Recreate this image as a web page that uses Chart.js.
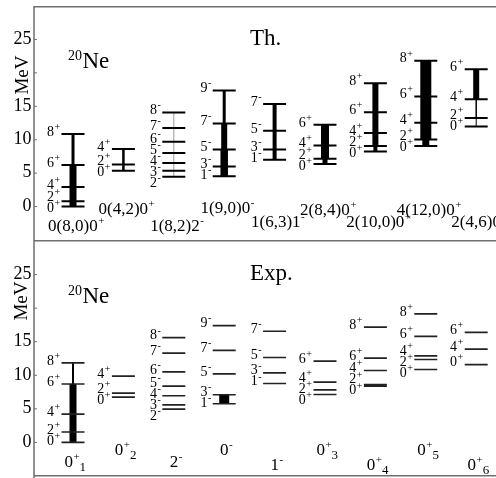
<!DOCTYPE html>
<html><head><meta charset="utf-8">
<script src="https://cdn.jsdelivr.net/npm/chart.js@4.4.1/dist/chart.umd.min.js"></script>
<style>
html,body{margin:0;padding:0;background:#fff;}
#wrap{position:relative;width:496px;height:478px;overflow:hidden;background:#fff;}
canvas{position:absolute;left:0;}
#cTop{top:0;}
#cBot{top:240px;}
</style></head><body>
<div id="wrap"><canvas id="cTop" width="496" height="240"></canvas><canvas id="cBot" width="496" height="238"></canvas></div>
<script>
// ---------------- DATA ----------------
const yTicks = [0, 5, 10, 15, 20, 25];
const yTickLabels = ['0', '5', '10', '15', '', '25'];
const yAxisTitle = 'MeV';
const nucleusMass = '20';
const nucleusName = 'Ne';

// Theory panel
const thTitle = 'Th.';
const thBandNames = ['0(8,0)0', '0(4,2)0', '1(8,2)2', '1(9,0)0', '1(6,3)1', '2(8,4)0', '2(10,0)0', '4(12,0)0', '2(4,6)0'];
const thBandParity = ['+', '+', '-', '-', '-', '+', '+', '+', '+'];
const thSpins = [
  [0, 2, 4, 6, 8],
  [0, 2, 4],
  [2, 3, 4, 5, 6, 7, 8],
  [1, 3, 5, 7, 9],
  [1, 3, 5, 7],
  [0, 2, 4, 6],
  [0, 2, 4, 6, 8],
  [0, 2, 4, 6, 8],
  [0, 2, 4, 6]
];
const thEnergies = [
  [0.0, 0.8, 2.94, 6.2, 10.85],
  [5.35, 6.3, 8.6],
  [4.47, 5.37, 6.5, 8.0, 9.7, 11.77, 14.07],
  [4.52, 5.98, 8.55, 12.42, 17.35],
  [7.0, 8.53, 11.33, 15.35],
  [6.38, 7.16, 9.15, 12.22],
  [8.23, 9.05, 11.0, 14.12, 18.46],
  [9.05, 10.05, 12.55, 16.46, 21.82],
  [11.99, 13.24, 16.07, 20.55]
];
// transition strength between consecutive levels (drawn as stick thickness)
const thStrength = [
  [7, 7, 7, 3],
  [2.5, 2.5],
  [0.8, 0.8, 0.8, 0.8, 0.8, 0.8],
  [7.5, 7.5, 6, 3],
  [4, 4, 4],
  [5, 8, 8],
  [4, 6, 6, 6],
  [7, 11, 11, 11],
  [1, 1.5, 6]
];

// Experiment panel
const expTitle = 'Exp.';
const expBandNames = ['0', '0', '2', '0', '1', '0', '0', '0', '0'];
const expBandParity = ['+', '+', '-', '-', '-', '+', '+', '+', '+'];
const expBandIndex = ['1', '2', '', '', '', '3', '4', '5', '6'];
const expSpins = [
  [0, 2, 4, 6, 8],
  [0, 2, 4],
  [2, 3, 4, 5, 6, 7, 8],
  [1, 3, 5, 7, 9],
  [1, 3, 5, 7],
  [0, 2, 4, 6],
  [0, 2, 4, 6, 8],
  [0, 2, 4, 6, 8],
  [0, 4, 6]
];
const expEnergies = [
  [0.0, 1.55, 4.22, 8.7, 11.85],
  [6.74, 7.34, 9.87],
  [4.96, 5.6, 6.95, 8.38, 10.5, 13.3, 15.6],
  [5.76, 7.1, 10.2, 13.7, 17.4],
  [8.78, 10.37, 12.65, 16.56],
  [7.14, 7.84, 8.97, 12.1],
  [8.38, 8.63, 10.71, 12.55, 17.16],
  [10.86, 12.35, 12.9, 15.8, 19.15],
  [11.6, 13.9, 16.4]
];
const expStrength = [
  [7, 7, 7, 2],
  [0, 0],
  [0, 0, 0, 0, 0, 0],
  [10, 0, 0, 0],
  [0, 0, 0],
  [0, 0, 0],
  [0, 0, 0, 0],
  [0, 0, 0, 0],
  [0, 0]
];

// ---------------- STYLE / LAYOUT ----------------
const SERIF = '"Liberation Serif", "DejaVu Serif", serif';
const FRAME = '#6e6e6e';
const LEVEL_HALF = 0.228;     // half-width of a level line, in band units
const X_MIN = -0.774, X_MAX = 8.393;
const Y_MIN = -5, Y_MAX = 30;

const layoutTop = {
  padding: {left: 34, right: 0, top: 6, bottom: 0},
  frameTopY: 6.75, frameBottomY: null,
  titleX: 250, titleY: 45,
  nucX: 68, nucY: 67.5,
  meVX: 23, meVY: 75,
  bandLabelBase: [231, 214, 231, 213, 227, 215, 227, 215, 227],
  bandFont: 17, bandSupFont: 11, bandSubFont: 13, bandShift: 3,
  levelColor: '#000', levelWidth: 2
};
const layoutBot = {
  padding: {left: 34, right: 0, top: 1, bottom: 2},
  frameTopY: 0.75, frameBottomY: 235.75,
  titleX: 250, titleY: 40,
  nucX: 68, nucY: 63,
  meVX: 22.5, meVY: 61,
  bandLabelBase: [227, 215, 227, 215, 230, 215, 230, 215, 230],
  bandFont: 17, bandSupFont: 11, bandSubFont: 13, bandShift: 2,
  levelColor: '#222', levelWidth: 1.7
};

// ---------------- HELPERS ----------------
function relax(centers, gap) {
  const c = centers.slice();
  for (let it = 0; it < 200; it++) {
    let moved = false;
    for (let i = 0; i < c.length - 1; i++) {
      const d = c[i] - c[i + 1];
      if (d < gap - 0.01) {
        const m = gap - d;
        c[i] += m * 0.7;
        c[i + 1] -= m * 0.3;
        moved = true;
      }
    }
    if (!moved) break;
  }
  return c;
}

function richWidth(ctx, base, sup, sub, bs, ss, sbs) {
  ctx.font = bs + 'px ' + SERIF;
  const wb = ctx.measureText(base).width;
  ctx.font = ss + 'px ' + SERIF;
  const wsup = sup ? ctx.measureText(sup).width : 0;
  ctx.font = (sbs || ss) + 'px ' + SERIF;
  const wsub = sub ? ctx.measureText(sub).width : 0;
  return wb + wsup + wsub;
}

function drawRich(ctx, x, y, base, sup, sub, bs, ss, sbs) {
  ctx.textAlign = 'left';
  ctx.textBaseline = 'alphabetic';
  ctx.font = bs + 'px ' + SERIF;
  ctx.fillText(base, x, y);
  const wb = ctx.measureText(base).width;
  ctx.font = ss + 'px ' + SERIF;
  let wsup = 0;
  if (sup) {
    ctx.fillText(sup, x + wb + 0.5, y - bs * 0.42);
    wsup = ctx.measureText(sup).width;
  }
  if (sub) {
    ctx.font = (sbs || ss) + 'px ' + SERIF;
    ctx.fillText(sub, x + wb + wsup + 0.5, y + 4);
  }
}

const panelPlugin = {
  id: 'panel',
  afterDatasetsDraw(chart) {
    const p = chart.options.plugins.panel;
    const L = p.layout;
    const ctx = chart.ctx;
    const xs = chart.scales.x, ys = chart.scales.y;
    ctx.save();
    // frame
    ctx.strokeStyle = FRAME;
    ctx.lineWidth = 1.5;
    ctx.beginPath();
    ctx.moveTo(34, L.frameTopY - 0.75); ctx.lineTo(34, chart.height);
    ctx.moveTo(34, L.frameTopY); ctx.lineTo(chart.width, L.frameTopY);
    if (L.frameBottomY !== null) { ctx.moveTo(34, L.frameBottomY); ctx.lineTo(chart.width, L.frameBottomY); }
    ctx.stroke();
    // y ticks
    ctx.lineWidth = 1;
    ctx.fillStyle = '#000';
    yTicks.forEach((t, i) => {
      const py = ys.getPixelForValue(t);
      ctx.beginPath(); ctx.moveTo(34, py); ctx.lineTo(37, py); ctx.stroke();
      if (yTickLabels[i]) {
        ctx.font = '18px ' + SERIF;
        ctx.textAlign = 'right';
        ctx.textBaseline = 'middle';
        ctx.fillText(yTickLabels[i], 31.5, py - 0.5);
      }
    });
    // axis title (rotated)
    ctx.save();
    ctx.translate(L.meVX, L.meVY);
    ctx.rotate(-Math.PI / 2);
    ctx.font = '19px ' + SERIF;
    ctx.textAlign = 'center';
    ctx.textBaseline = 'middle';
    ctx.fillText(yAxisTitle, 0, 0);
    ctx.restore();
    // nucleus + panel title
    ctx.fillStyle = '#000';
    ctx.textAlign = 'left'; ctx.textBaseline = 'alphabetic';
    ctx.font = '14px ' + SERIF;
    ctx.fillText(nucleusMass, L.nucX, L.nucY - 8);
    const wm = ctx.measureText(nucleusMass).width;
    ctx.font = '23px ' + SERIF;
    ctx.fillText(nucleusName, L.nucX + wm + 0.5, L.nucY);
    ctx.font = '23px ' + SERIF;
    ctx.fillText(p.title, L.titleX, L.titleY);

    // level labels
    p.spins.forEach((sp, b) => {
      const pix = p.energies[b].map(E => ys.getPixelForValue(E));
      const centers = relax(pix.map(v => v - 3), 11);
      const xr = xs.getPixelForValue(b - LEVEL_HALF) - 2;
      sp.forEach((s, j) => {
        const base = String(s);
        const w = richWidth(ctx, base, p.parity[b], '', 14, 10);
        drawRich(ctx, xr - w, centers[j] + 4.7, base, p.parity[b], '', 14, 10);
      });
    });
    // band labels
    p.bandNames.forEach((nm, b) => {
      const sub = p.bandIndex ? p.bandIndex[b] : '';
      const w = richWidth(ctx, nm, p.parity[b], sub, L.bandFont, L.bandSupFont, L.bandSubFont);
      const cx = xs.getPixelForValue(b) + L.bandShift;
      drawRich(ctx, cx - w / 2, L.bandLabelBase[b], nm, p.parity[b], sub, L.bandFont, L.bandSupFont, L.bandSubFont);
    });
    ctx.restore();
  }
};

function buildDatasets(energies, strength, L) {
  const ds = [];
  energies.forEach((levels, b) => {
    const pts = [];
    levels.forEach(E => {
      pts.push({x: b - LEVEL_HALF, y: E});
      pts.push({x: b + LEVEL_HALF, y: E});
      pts.push({x: b, y: null});
    });
    ds.push({
      data: pts, showLine: true, spanGaps: false, pointRadius: 0,
      borderColor: L.levelColor, borderWidth: L.levelWidth, order: 0, clip: false
    });
    const st = strength[b];
    if (st.some(v => v > 0)) {
      ds.push({
        data: levels.map(E => ({x: b, y: E})),
        showLine: true, pointRadius: 0, borderWidth: 1, order: 1, clip: false,
        borderCapStyle: 'butt',
        segment: {
          borderWidth: ctx => { const v = st[ctx.p0DataIndex] || 0; return v < 1 ? 1 : v; },
          borderColor: ctx => { const v = st[ctx.p0DataIndex] || 0; return v <= 0 ? 'rgba(0,0,0,0)' : (v < 1 ? '#9a9a9a' : '#000'); }
        }
      });
    }
  });
  return ds;
}

function makeChart(id, energies, strength, L, extra) {
  return new Chart(document.getElementById(id), {
    type: 'scatter',
    data: {datasets: buildDatasets(energies, strength, L)},
    options: {
      responsive: false, animation: false, devicePixelRatio: 1,
      events: [],
      layout: {padding: L.padding},
      scales: {
        x: {type: 'linear', min: X_MIN, max: X_MAX, display: false},
        y: {type: 'linear', min: Y_MIN, max: Y_MAX, display: false}
      },
      plugins: {
        legend: {display: false}, tooltip: {enabled: false},
        panel: Object.assign({layout: L}, extra)
      }
    },
    plugins: [panelPlugin]
  });
}

makeChart('cTop', thEnergies, thStrength, layoutTop, {
  title: thTitle, spins: thSpins, energies: thEnergies,
  parity: thBandParity, bandNames: thBandNames, bandIndex: null
});
makeChart('cBot', expEnergies, expStrength, layoutBot, {
  title: expTitle, spins: expSpins, energies: expEnergies,
  parity: expBandParity, bandNames: expBandNames, bandIndex: expBandIndex
});
</script>
</body></html>
